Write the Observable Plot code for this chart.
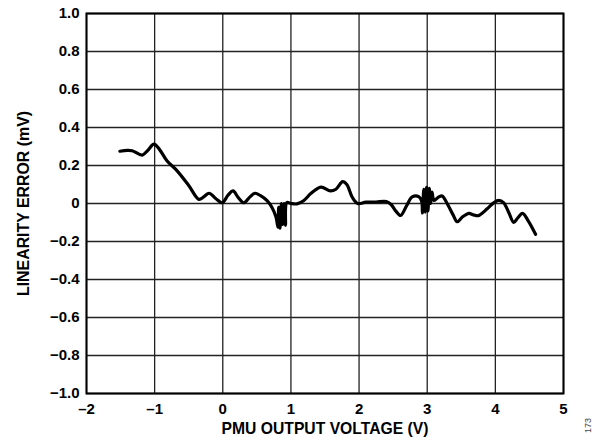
<!DOCTYPE html>
<html>
<head>
<meta charset="utf-8">
<script src="https://cdn.jsdelivr.net/npm/d3@7"></script>
<script src="https://cdn.jsdelivr.net/npm/@observablehq/plot@0.6"></script>
<style>
  html, body { margin: 0; padding: 0; background: #fff; }
  svg { display: block; }
</style>
</head>
<body>
<div id="chart"></div>
<script>
const voltage = [
  -1.51, -1.40, -1.33, -1.18, -1.10, -1.01, -0.93, -0.82, -0.67, -0.50, -0.35, -0.28, -0.20, -0.10, -0.01,
  0.08, 0.15, 0.23, 0.31, 0.40, 0.47, 0.56, 0.65, 0.72, 0.78, 0.81, 0.82, 0.84, 0.86, 0.88, 0.90, 0.92, 0.94,
  1.00, 1.09, 1.19, 1.30, 1.44, 1.58, 1.66, 1.76, 1.82, 1.90, 1.98, 2.10, 2.25, 2.40, 2.47, 2.54, 2.61, 2.70,
  2.78, 2.88, 2.92, 2.93, 2.95, 2.97, 2.99, 3.01, 3.03, 3.05, 3.07, 3.10, 3.17, 3.22, 3.30, 3.38, 3.44, 3.52,
  3.61, 3.68, 3.75, 3.88, 3.98, 4.05, 4.12, 4.20, 4.27, 4.33, 4.40, 4.48, 4.59
];
const linearityError = [
  0.275, 0.280, 0.278, 0.255, 0.280, 0.312, 0.285, 0.225, 0.172, 0.095, 0.022, 0.035, 0.054, 0.025, 0.004,
  0.045, 0.066, 0.030, 0.004, 0.035, 0.054, 0.040, 0.015, -0.020, -0.070, -0.125, -0.020, -0.130, 0.000, -0.110, 0.000, -0.115, 0.005,
  0.000, -0.002, 0.016, 0.055, 0.086, 0.066, 0.075, 0.115, 0.100, 0.033, 0.000, 0.007, 0.008, 0.010, -0.005, -0.040, -0.063, -0.010,
  0.035, 0.035, 0.010, -0.050, 0.075, -0.045, 0.085, -0.040, 0.080, 0.000, 0.060, 0.016, 0.035, 0.040, -0.005, -0.060, -0.096, -0.070,
  -0.052, -0.060, -0.064, -0.028, 0.005, 0.016, 0.005, -0.050, -0.100, -0.075, -0.052, -0.090, -0.162
];
const xTicks = [-2, -1, 0, 1, 2, 3, 4, 5];
const yTicks = [-1.0, -0.8, -0.6, -0.4, -0.2, 0, 0.2, 0.4, 0.6, 0.8, 1.0];
const xTitle = "PMU OUTPUT VOLTAGE (V)";
const yTitle = "LINEARITY ERROR (mV)";
const figureId = "173";

const data = voltage.map((v, i) => ({x: v, y: linearityError[i]}));
const dash = s => s.replace("-", "\u2013");
const fmtX = d => dash(String(d));
const fmtY = d => d === 0 ? "0" : dash(d3.format(".1f")(d));

const font = "'Liberation Sans', Arial, Helvetica, sans-serif";

const chart = Plot.plot({
  width: 608,
  height: 446,
  marginLeft: 86,
  marginRight: 45,
  marginTop: 13,
  marginBottom: 53,
  style: {fontFamily: font, fontSize: "15px", fontWeight: "bold", color: "#000", background: "#fff"},
  x: {domain: [-2, 5], ticks: xTicks},
  y: {domain: [-1, 1], ticks: yTicks},
  marks: [
    Plot.ruleX(xTicks, {stroke: "#222", strokeWidth: 1.3}),
    Plot.ruleY(yTicks, {stroke: "#222", strokeWidth: 1.3}),
    Plot.frame({stroke: "#000", strokeWidth: 2}),
    Plot.axisX(xTicks, {tickSize: 0, tickPadding: 10, tickFormat: fmtX, label: null, fontSize: 15, fontWeight: "bold"}),
    Plot.axisY(yTicks, {tickSize: 0, tickPadding: 7, tickFormat: fmtY, label: null, fontSize: 15, fontWeight: "bold"}),
    Plot.line(data, {x: "x", y: "y", stroke: "#000", strokeWidth: 3.2, curve: "catmull-rom", strokeLinejoin: "round", strokeLinecap: "round"}),
    Plot.text([xTitle], {frameAnchor: "bottom", textAnchor: "middle", dy: 40, fontSize: 15.7, fontWeight: "bold", fill: "#000"}),
    Plot.text([yTitle], {frameAnchor: "left", textAnchor: "middle", dx: -63, rotate: -90, fontSize: 15.9, fontWeight: "bold", fill: "#000"}),
    Plot.text([figureId], {frameAnchor: "bottom-right", textAnchor: "middle", dx: 27, dy: 32, rotate: -90, fontSize: 9, fontWeight: "normal", fill: "#444"})
  ]
});
document.getElementById("chart").appendChild(chart);
</script>
</body>
</html>
